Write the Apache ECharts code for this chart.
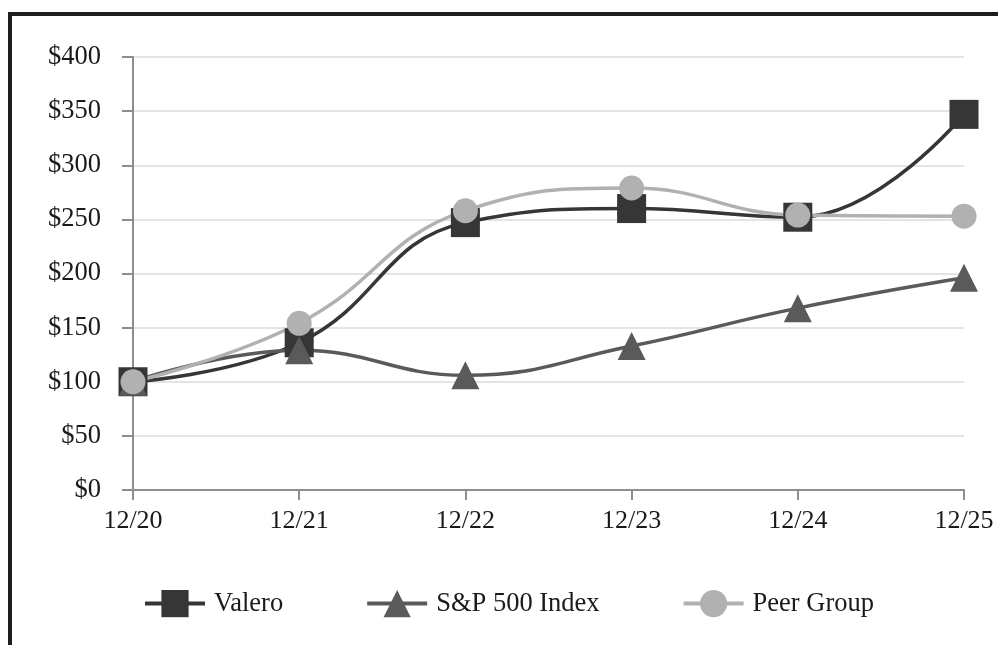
<!DOCTYPE html>
<html>
<head>
<meta charset="utf-8">
<script src="https://cdn.jsdelivr.net/npm/echarts@6/dist/echarts.min.js"></script>
<style>
html,body{margin:0;padding:0;background:#fff;}
#chart{width:998px;height:645px;}
</style>
</head>
<body>
<div id="chart"></div>
<script>
const categories = ['12/20', '12/21', '12/22', '12/23', '12/24', '12/25'];
const valero = [100, 136, 247, 260, 252, 347];
const sp500 = [100, 129, 106, 133, 168, 196];
const peerGroup = [100, 154, 258, 279, 254, 253];
const seriesNames = ['Valero', 'S&P 500 Index', 'Peer Group'];
const yTicks = { min: 0, max: 400, interval: 50 };

const FONT = 'Liberation Serif';
const chart = echarts.init(document.getElementById('chart'));

const option = {
  backgroundColor: '#ffffff',
  animation: false,
  textStyle: { fontFamily: FONT },
  graphic: [
    { type: 'rect', shape: { x: 8, y: 12, width: 990, height: 4 }, style: { fill: '#1e1e1e' } },
    { type: 'rect', shape: { x: 8, y: 12, width: 4, height: 633 }, style: { fill: '#1e1e1e' } }
  ],
  grid: { left: 133, right: 34, top: 57, bottom: 155 },
  legend: {
    left: 138,
    top: 585,
    itemWidth: 60,
    itemHeight: 34,
    itemGap: 82,
    lineStyle: { width: 4 },
    textStyle: { fontFamily: FONT, fontSize: 26.5, color: '#1a1a1a', padding: [0, 0, 0, 4] },
    data: seriesNames
  },
  xAxis: {
    type: 'category',
    data: categories,
    boundaryGap: false,
    axisLine: { lineStyle: { color: '#8e8e8e', width: 2 } },
    axisTick: { show: true, length: 10, lineStyle: { color: '#8e8e8e', width: 2 } },
    axisLabel: { fontFamily: FONT, fontSize: 26, color: '#1a1a1a', margin: 18 },
    splitLine: { show: false }
  },
  yAxis: {
    type: 'value',
    min: yTicks.min,
    max: yTicks.max,
    interval: yTicks.interval,
    axisLine: { show: true, lineStyle: { color: '#8e8e8e', width: 2 } },
    axisTick: { show: true, length: 11, lineStyle: { color: '#8e8e8e', width: 2 } },
    axisLabel: { fontFamily: FONT, fontSize: 26.5, color: '#1a1a1a', margin: 32, formatter: v => '$' + v },
    splitLine: { lineStyle: { color: '#e4e4e4', width: 2 } }
  },
  series: [
    {
      name: seriesNames[0], type: 'line', data: valero, smooth: 0.45,
      symbol: 'rect', symbolSize: 29,
      lineStyle: { color: '#363636', width: 3.5 },
      itemStyle: { color: '#363636' }
    },
    {
      name: seriesNames[1], type: 'line', data: sp500, smooth: 0.45,
      symbol: 'triangle', symbolSize: 28,
      lineStyle: { color: '#5a5a5a', width: 3.5 },
      itemStyle: { color: '#5a5a5a' }
    },
    {
      name: seriesNames[2], type: 'line', data: peerGroup, smooth: 0.45,
      symbol: 'circle', symbolSize: 25,
      lineStyle: { color: '#b1b1b3', width: 3.5 },
      itemStyle: { color: '#b1b1b3' }
    }
  ]
};
chart.setOption(option);
</script>
</body>
</html>
